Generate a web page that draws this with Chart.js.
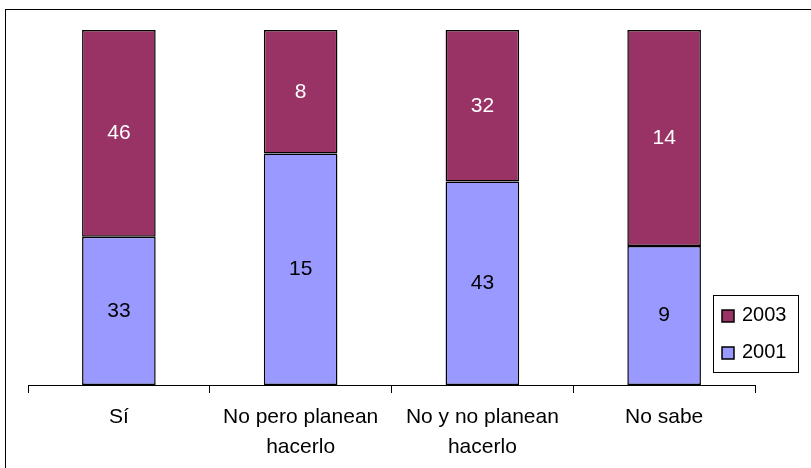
<!DOCTYPE html>
<html>
<head>
<meta charset="utf-8">
<script src="https://cdn.jsdelivr.net/npm/chart.js@4/dist/chart.umd.min.js"></script>
<style>
html,body{margin:0;padding:0;background:#fff;overflow:hidden;}
#wrap{position:relative;width:811px;height:468px;}
</style>
</head>
<body>
<div id="wrap"><canvas id="c" width="811" height="468"></canvas></div>
<script>
const categories = [["Sí"], ["No pero planean", "hacerlo"], ["No y no planean", "hacerlo"], ["No sabe"]];
const seriesNames = ["2001", "2003"];
const values2001 = [33, 15, 43, 9];
const values2003 = [46, 8, 32, 14];
const colors = ["#9999FF", "#993366"];
const labelColors = ["#000000", "#FFFFFF"];

const totals = values2001.map((v, i) => v + values2003[i]);
const pct = arr => arr.map((v, i) => v / totals[i] * 100);
const rawSeries = [values2001, values2003];
const FONT = '"Liberation Sans", Arial, sans-serif';

const frameAndLabels = {
  id: 'frameAndLabels',
  beforeDraw(chart) {
    const ctx = chart.ctx;
    ctx.save();
    ctx.fillStyle = '#fff';
    ctx.fillRect(0, 0, chart.width, chart.height);
    ctx.strokeStyle = '#000';
    ctx.lineWidth = 1;
    ctx.strokeRect(5.5, 9.5, 1000, 1000);
    ctx.restore();
  },
  afterDatasetsDraw(chart) {
    const ctx = chart.ctx;
    ctx.save();
    ctx.font = '21px ' + FONT;
    ctx.textAlign = 'center';
    ctx.textBaseline = 'middle';
    chart.data.datasets.forEach((ds, di) => {
      const meta = chart.getDatasetMeta(di);
      meta.data.forEach((bar, i) => {
        const y = (bar.y + bar.base) / 2;
        ctx.fillStyle = labelColors[di];
        ctx.fillText(String(rawSeries[di][i]), bar.x, y);
      });
    });
    // legend
    const lx = 713.5, ly = 295.5, lw = 85, lh = 77;
    ctx.fillStyle = '#fff';
    ctx.fillRect(lx, ly, lw, lh);
    ctx.strokeStyle = '#000';
    ctx.lineWidth = 1;
    ctx.strokeRect(lx, ly, lw, lh);
    const items = [[1, 321], [0, 358]];
    ctx.textAlign = 'left';
    ctx.textBaseline = 'alphabetic';
    ctx.font = '20px ' + FONT;
    items.forEach(([di, base]) => {
      ctx.fillStyle = colors[di];
      ctx.fillRect(722, base - 11, 12, 12);
      ctx.strokeStyle = '#000';
      ctx.lineWidth = 1.5;
      ctx.strokeRect(722, base - 11, 12, 12);
      ctx.fillStyle = '#000';
      ctx.fillText(seriesNames[di], 742, base);
    });
    ctx.restore();
  }
};

new Chart(document.getElementById('c'), {
  type: 'bar',
  data: {
    labels: categories,
    datasets: [
      { label: seriesNames[0], data: pct(values2001), backgroundColor: colors[0], borderColor: '#000', borderWidth: 1.5, borderSkipped: false },
      { label: seriesNames[1], data: pct(values2003), backgroundColor: colors[1], borderColor: '#000', borderWidth: 1.5, borderSkipped: false }
    ]
  },
  options: {
    responsive: false,
    animation: false,
    devicePixelRatio: 1,
    layout: { padding: { left: 28, right: 56, top: 30, bottom: 0 } },
    datasets: { bar: { categoryPercentage: 1, barPercentage: 0.405 } },
    plugins: { legend: { display: false }, tooltip: { enabled: false } },
    scales: {
      x: {
        stacked: true,
        grid: { display: true, offset: true, drawOnChartArea: false, drawTicks: true, tickLength: 8, color: '#000', lineWidth: 1 },
        border: { display: true, color: '#000', width: 1 },
        ticks: { color: '#000', font: { family: FONT, size: 21, lineHeight: '30px' }, padding: 9, maxRotation: 0, autoSkip: false },
        afterFit(scale) { scale.height = 83; }
      },
      y: {
        stacked: true,
        display: false,
        min: 0,
        max: 100
      }
    }
  },
  plugins: [frameAndLabels]
});
</script>
</body>
</html>
